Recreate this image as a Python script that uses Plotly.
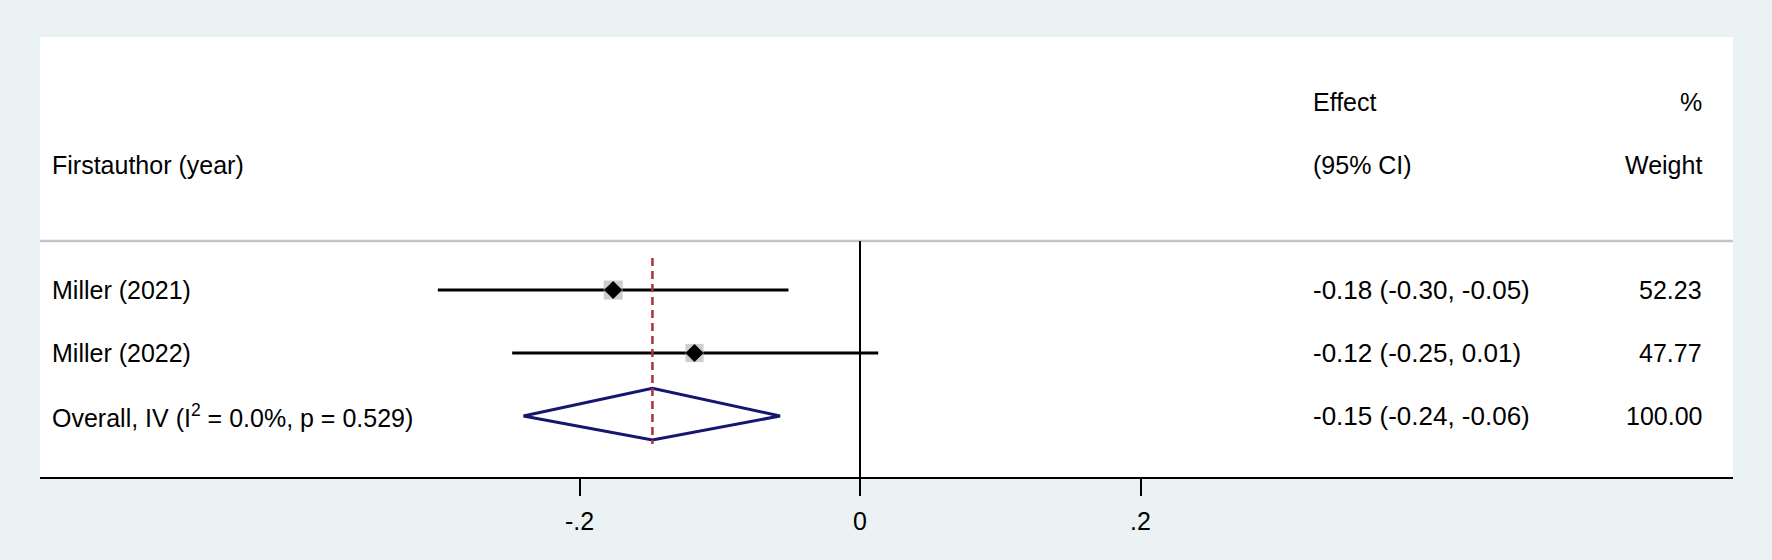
import plotly.graph_objects as go

# ---- data ----
studies = ["Miller (2021)", "Miller (2022)"]
effects = [-0.176, -0.118]
ci_low = [-0.301, -0.248]
ci_high = [-0.051, 0.013]
weights = [52.23, 47.77]
effect_text = ["-0.18 (-0.30, -0.05)", "-0.12 (-0.25, 0.01)"]
weight_text = ["52.23", "47.77"]

overall_label = "Overall, IV (I<sup>2</sup> = 0.0%, p = 0.529)"
overall_est = -0.148
overall_low = -0.240
overall_high = -0.057
overall_text = "-0.15 (-0.24, -0.06)"
overall_weight = "100.00"

tick_vals = [-0.2, 0, 0.2]
tick_text = ["-.2", "0", ".2"]

# ---- layout constants ----
W, H = 1772, 560
ML, MR, MT, MB = 40, 39, 37, 83
BG = "#EAF2F3"
FONT = "Arial, Liberation Sans, sans-serif"
FS = 25
pw = W - ML - MR
ph = H - MT - MB
px_per_unit = 1402.5
x0_px = 860 - ML
xr = [-x0_px / px_per_unit, (pw - x0_px) / px_per_unit]
# y: rows at 1,2,3 ; 63 px per unit ; row1 at 290 px
ypx = 63.0
y_top = 1 - (290 - MT) / ypx
y_bot = 1 + (H - MB - 290) / ypx

rows = [1, 2]
overall_row = 3
sep_y = 1 - (290 - 241) / ypx

fig = go.Figure()

# CI lines
for i in range(len(studies)):
    fig.add_trace(go.Scatter(x=[ci_low[i], ci_high[i]], y=[rows[i], rows[i]], mode="lines",
                             line=dict(color="black", width=3), hoverinfo="skip", showlegend=False))
# weight boxes
fig.add_trace(go.Scatter(x=effects, y=rows, mode="markers",
                         marker=dict(symbol="square", color="#B8B8B8",
                                     size=[19 * (w / 52.23) ** 0.5 for w in weights],
                                     line=dict(width=0)),
                         hoverinfo="skip", showlegend=False))
# point estimates
fig.add_trace(go.Scatter(x=effects, y=rows, mode="markers",
                         marker=dict(symbol="diamond", color="black", size=14, line=dict(width=0)),
                         hoverinfo="skip", showlegend=False))
# overall diamond
dh = 0.41
fig.add_trace(go.Scatter(x=[overall_low, overall_est, overall_high, overall_est, overall_low],
                         y=[overall_row, overall_row - dh * 1.07, overall_row, overall_row + dh * 0.93, overall_row],
                         mode="lines", line=dict(color="#16166E", width=3),
                         hoverinfo="skip", showlegend=False))

shapes = [
    # header separator
    dict(type="line", xref="paper", yref="y", x0=0, x1=1, y0=sep_y, y1=sep_y,
         line=dict(color="#C4C4C4", width=2.5), layer="below"),
    # null line
    dict(type="line", xref="x", yref="y", x0=0, x1=0, y0=sep_y, y1=y_bot,
         line=dict(color="black", width=2), layer="below"),
    # overall estimate dashed line
    dict(type="line", xref="x", yref="y", x0=overall_est, x1=overall_est,
         y0=1 - (290 - 258) / ypx, y1=1 + (444 - 290) / ypx,
         line=dict(color="#A8323C", width=2.5, dash="8px,5px"), layer="above"),
]

ann = []
def txt(x, y, s, anchor, size=FS):
    ann.append(dict(xref="paper", yref="y", x=x, y=y, text=s, showarrow=False,
                    xanchor=anchor, yanchor="middle", font=dict(family=FONT, size=size, color="black")))

xl = (50 - ML) / pw
xe = (1311 - ML) / pw
xw = (1704 - ML) / pw
hy1 = 1 - (290 - 102) / ypx
hy2 = 1 - (290 - 165) / ypx
txt(xl, hy2, "Firstauthor (year)", "left")
txt(xe, hy1, "Effect", "left")
txt(xe, hy2, "(95% CI)", "left")
txt(xw, hy1, "%", "right")
txt(xw, hy2, "Weight", "right")
for i in range(len(studies)):
    txt(xl, rows[i], studies[i], "left")
    txt(xe, rows[i], effect_text[i], "left", 26)
    txt(xw, rows[i], weight_text[i], "right")
txt(xl, overall_row, overall_label, "left")
txt(xe, overall_row, overall_text, "left", 26)
txt(xw, overall_row, overall_weight, "right")

fig.update_layout(
    width=W, height=H,
    margin=dict(l=ML, r=MR, t=MT, b=MB, pad=0),
    paper_bgcolor=BG, plot_bgcolor="white",
    shapes=shapes, annotations=ann,
    xaxis=dict(range=xr, showgrid=False, zeroline=False, showline=True, linecolor="black", linewidth=2,
               ticks="outside", ticklen=17, tickwidth=2, tickcolor="black",
               tickvals=tick_vals, ticktext=tick_text, ticklabelstandoff=4,
               tickfont=dict(family=FONT, size=25, color="black"), fixedrange=True),
    yaxis=dict(range=[y_bot, y_top], showgrid=False, zeroline=False, showline=False,
               showticklabels=False, ticks="", fixedrange=True),
)

fig.write_html("out.html", config={"displayModeBar": False},
               post_script="document.body.style.margin='0px';document.body.style.background='#EAF2F3';")
